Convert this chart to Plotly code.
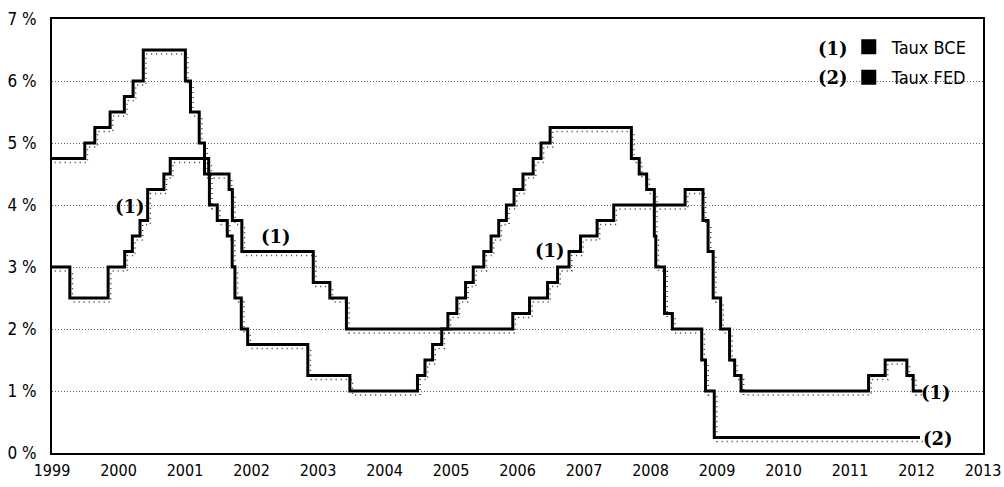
import plotly.graph_objects as go
import pandas as pd

# ECB main refinancing rate (1) — change dates and levels
ecb_dates = ["1999-01-01", "1999-04-09", "1999-11-05", "2000-02-04", "2000-03-17", "2000-04-28",
             "2000-06-09", "2000-09-06", "2000-10-11", "2001-05-11", "2001-08-31", "2001-09-18",
             "2001-11-09", "2002-12-06", "2003-03-07", "2003-06-06", "2005-12-06", "2006-03-08",
             "2006-06-15", "2006-08-09", "2006-10-11", "2006-12-13", "2007-03-14", "2007-06-13",
             "2008-07-09", "2008-10-15", "2008-11-12", "2008-12-10", "2009-01-21", "2009-03-11",
             "2009-04-08", "2009-05-13", "2011-04-13", "2011-07-13", "2011-11-09", "2011-12-14",
             "2012-02-01"]
ecb_rates = [3.0, 2.5, 3.0, 3.25, 3.5, 3.75,
             4.25, 4.5, 4.75, 4.5, 4.25, 3.75,
             3.25, 2.75, 2.5, 2.0, 2.25, 2.5,
             2.75, 3.0, 3.25, 3.5, 3.75, 4.0,
             4.25, 3.75, 3.25, 2.5, 2.0, 1.5,
             1.25, 1.0, 1.25, 1.5, 1.25, 1.0,
             1.0]

# FED funds target rate (2)
fed_dates = ["1999-01-01", "1999-06-30", "1999-08-24", "1999-11-16", "2000-02-02", "2000-03-21",
             "2000-05-16", "2001-01-03", "2001-01-31", "2001-03-20", "2001-04-18", "2001-05-15",
             "2001-06-27", "2001-08-21", "2001-09-17", "2001-10-02", "2001-11-06", "2001-12-11",
             "2002-11-06", "2003-06-25", "2004-06-30", "2004-08-10", "2004-09-21", "2004-11-10",
             "2004-12-14", "2005-02-02", "2005-03-22", "2005-05-03", "2005-06-30", "2005-08-09",
             "2005-09-20", "2005-11-01", "2005-12-13", "2006-01-31", "2006-03-28", "2006-05-10",
             "2006-06-29", "2007-09-18", "2007-10-31", "2007-12-11", "2008-01-22", "2008-01-30",
             "2008-03-18", "2008-04-30", "2008-10-08", "2008-10-29", "2008-12-16", "2012-01-20"]
fed_rates = [4.75, 5.0, 5.25, 5.5, 5.75, 6.0,
             6.5, 6.0, 5.5, 5.0, 4.5, 4.0,
             3.75, 3.5, 3.0, 2.5, 2.0, 1.75,
             1.25, 1.0, 1.25, 1.5, 1.75, 2.0,
             2.25, 2.5, 2.75, 3.0, 3.25, 3.5,
             3.75, 4.0, 4.25, 4.5, 4.75, 5.0,
             5.25, 4.75, 4.5, 4.25, 3.5, 3.0,
             2.25, 2.0, 1.5, 1.0, 0.25, 0.25]

year_ticks = list(range(1999, 2014))
pct_ticks = list(range(0, 8))
pct_labels = [f"{v} %" for v in pct_ticks]
legend_names = ["Taux BCE", "Taux FED"]


def to_decimal_year(dates):
    d = pd.to_datetime(pd.Series(dates))
    return (d.dt.year + (d.dt.dayofyear - 1) / 365.0).tolist()


ecb_x = to_decimal_year(ecb_dates)
fed_x = to_decimal_year(fed_dates)

SHADOW_DX = 0.04
SHADOW_DY = -0.065
FONT = "DejaVu Sans Condensed, Liberation Sans Narrow, Liberation Sans, Arial"
HAND = "DejaVu Serif, serif"

fig = go.Figure()

for xs, ys in [(ecb_x, ecb_rates), (fed_x, fed_rates)]:
    fig.add_trace(go.Scatter(
        x=[v + SHADOW_DX for v in xs], y=[v + SHADOW_DY for v in ys],
        mode="lines", line=dict(shape="hv", color="#333333", width=1.5, dash="1px,4px"),
        showlegend=False, hoverinfo="skip"))
for xs, ys in [(ecb_x, ecb_rates), (fed_x, fed_rates)]:
    fig.add_trace(go.Scatter(
        x=xs, y=ys, mode="lines",
        line=dict(shape="hv", color="black", width=3),
        showlegend=False))

for i, name in enumerate(legend_names):
    fig.add_trace(go.Scatter(
        x=[None], y=[None], mode="markers", name=name, legendgroup=f"g{i}",
        marker=dict(symbol="square", size=15, color="black")))

hand_notes = [
    (2000.17, 3.97, "(1)"),
    (2002.37, 3.50, "(1)"),
    (2006.49, 3.27, "(1)"),
    (2012.30, 0.97, "(1)"),
    (2012.33, 0.24, "(2)"),
    (2010.75, 6.53, "(1)"),
    (2010.75, 6.05, "(2)"),
]
for x, y, t in hand_notes:
    fig.add_annotation(x=x, y=y, text=f"<b>{t}</b>", showarrow=False,
                       font=dict(family=HAND, size=18, color="black"))

fig.update_layout(
    width=1004, height=487,
    margin=dict(l=52, r=21, t=19, b=34),
    paper_bgcolor="white", plot_bgcolor="white",
    font=dict(family=FONT, size=17, color="black"),
    showlegend=True,
    legend=dict(x=0.989, y=0.978, xanchor="right", yanchor="top",
                bgcolor="rgba(0,0,0,0)", font=dict(size=18),
                itemwidth=36, traceorder="grouped", tracegroupgap=4),
)
fig.update_xaxes(range=[1999, 2013], tickvals=year_ticks, ticktext=[str(y) for y in year_ticks],
                 tickfont=dict(size=16),
                 showgrid=False, zeroline=False, showline=True, linecolor="black",
                 linewidth=2, mirror=True, ticks="", ticklabelstandoff=2, automargin=False)
fig.update_yaxes(range=[0, 7], tickvals=pct_ticks, ticktext=pct_labels,
                 showgrid=True, gridcolor="#666666", griddash="1px,2px", gridwidth=1,
                 zeroline=False, showline=True, linecolor="black",
                 linewidth=2, mirror=True, ticks="", ticklabelstandoff=10, automargin=False)

# remove the browser's default 8 px body margin so the figure fills the window exactly
fig.write_html("out.html",
               config={"displayModeBar": False},
               post_script="document.body.style.margin='0px';"
                           "document.documentElement.style.overflow='hidden';")
